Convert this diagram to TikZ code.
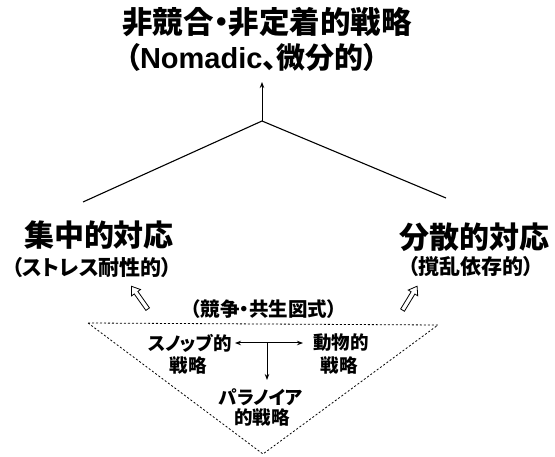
\documentclass[tikz,border=0pt]{standalone}
\usepackage{fontspec}
\newfontfamily\jp{Noto Sans CJK JP}[RawFeature=+palt]
\newfontfamily\lat{Liberation Sans}
\usetikzlibrary{shapes.arrows,arrows.meta}
\tikzset{
  txt/.style={inner sep=0pt, anchor=center},
  big/.style={txt, font=\jp\bfseries\fontsize{30.5}{31}\selectfont},
  big2/.style={txt, font=\jp\bfseries\fontsize{29}{30}\selectfont},
  mid/.style={txt, font=\jp\bfseries\fontsize{30}{31}\selectfont},
  sub/.style={txt, font=\jp\bfseries\fontsize{21}{22}\selectfont},
  small/.style={txt, font=\jp\bfseries\fontsize{18.5}{19}\selectfont},
  smallw/.style={txt, font=\jp\bfseries\fontsize{19.5}{20}\selectfont},
  hollow/.style={draw, thick, fill=white, single arrow, minimum height=28pt, minimum width=11pt,
     single arrow head extend=3pt, single arrow tip angle=70, inner sep=1.6pt},
  yline/.style={line width=1.1pt},
  tri/.style={line width=0.8pt, dash pattern=on 2pt off 2pt},
  arr/.style={line width=1pt, -{Stealth[length=6pt,width=4.5pt]}},
}
\begin{document}
\begin{tikzpicture}[x=1pt,y=-1pt]
\useasboundingbox (0,0) rectangle (555,457);
\fill[white] (0,0) rectangle (555,457);
% title
\node[big] (t1) at (267,22) {非競合・非定着的戦略};
\node[big2] (t2) at (252,57) {（{\lat Nomadic}、微分的）};
% Y shape
\coordinate (J) at (262,121);
\coordinate (Tip) at (262,82);
\coordinate (LE) at (83,202);
\coordinate (RE) at (446,198);
\draw[arr] (J) -- (Tip);
\draw[yline] (LE) -- (J) -- (RE);
% left / right labels
\node[mid] (l1) at (99,235) {集中的対応};
\node[sub] (l2) at (92,268) {（ストレス耐性的）};
\node[mid] (r1) at (474,237) {分散的対応};
\node[sub] (r2) at (471,267) {（撹乱依存的）};
% hollow arrows
\node[hollow, rotate=125.3] (ha) at (140.5,299) {};
\node[hollow, rotate=58.7] (hb) at (409,299.5) {};
% triangle
\node[smallw] (comp) at (264,309) {（競争・共生図式）};
\coordinate (TA) at (88,323);
\coordinate (TB) at (438,325);
\coordinate (TC) at (263,454);
\draw[tri] (TA) -- (TB) -- (TC) -- cycle;
% inner
\node[small] (s1) at (190,343) {スノッブ的};
\node[small] (s2) at (188,365) {戦略};
\node[small] (a1) at (341,343) {動物的};
\node[small] (a2) at (339,365) {戦略};
\node[small] (p1) at (261,397) {パラノイア};
\node[small] (p2) at (262,417) {的戦略};
\coordinate (HL) at (235,343);
\coordinate (HR) at (303,343);
\coordinate (VT) at (267,343);
\coordinate (VB) at (267,380);
\draw[arr, {Stealth[length=6pt,width=4.5pt]}-{Stealth[length=6pt,width=4.5pt]}] (HL) -- (HR);
\draw[arr] (VT) -- (VB);
\end{tikzpicture}
\end{document}
